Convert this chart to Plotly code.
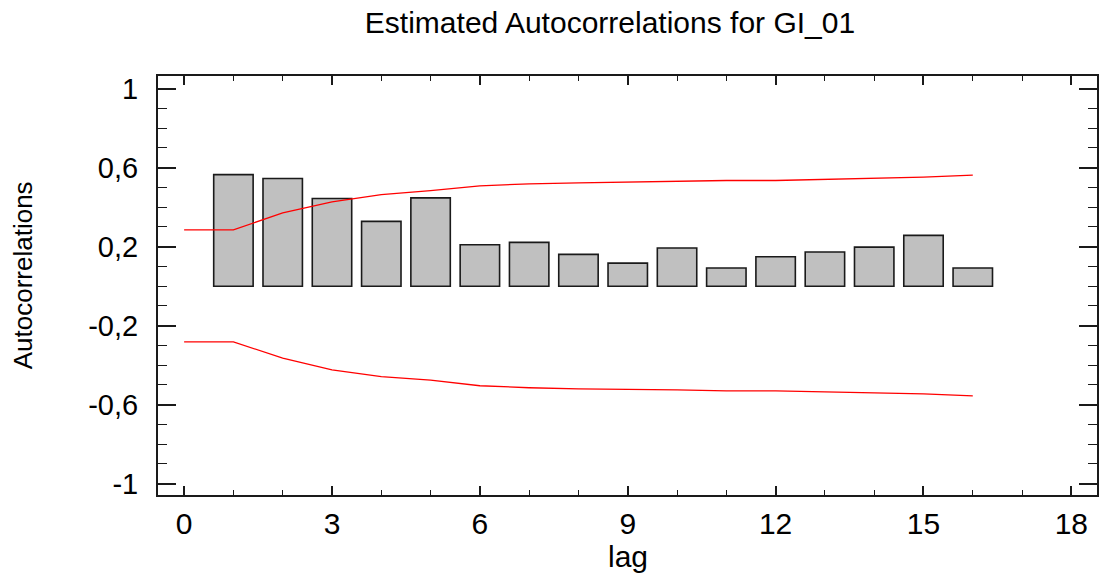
import plotly.graph_objects as go

lags = list(range(1, 17))
acf = [0.565, 0.545, 0.444, 0.328, 0.447, 0.210, 0.222, 0.161,
       0.117, 0.193, 0.092, 0.149, 0.173, 0.198, 0.257, 0.092]

limit_lags = list(range(0, 17))
upper = [0.285, 0.285, 0.371, 0.427, 0.464, 0.484, 0.508, 0.518, 0.523,
         0.528, 0.532, 0.535, 0.535, 0.540, 0.545, 0.552, 0.562]
lower = [-0.282, -0.282, -0.364, -0.424, -0.458, -0.475, -0.504, -0.514, -0.520,
         -0.522, -0.525, -0.530, -0.530, -0.535, -0.540, -0.545, -0.555]

x_ticks = [0, 3, 6, 9, 12, 15, 18]
x_ticklabels = ["0", "3", "6", "9", "12", "15", "18"]
y_ticks = [1, 0.6, 0.2, -0.2, -0.6, -1]
y_ticklabels = ["1", "0,6", "0,2", "-0,2", "-0,6", "-1"]

title_text = "Estimated Autocorrelations for GI_01"
x_title = "lag"
y_title = "Autocorrelations"

FONT = "Liberation Sans, Arial, sans-serif"

fig = go.Figure()
fig.add_trace(go.Bar(
    x=lags, y=acf, width=0.8,
    marker=dict(color="#C0C0C0", line=dict(color="#1a1a1a", width=1.6)),
    showlegend=False,
))
fig.add_trace(go.Scatter(
    x=limit_lags, y=upper, mode="lines",
    line=dict(color="#ff0000", width=1.3), showlegend=False,
))
fig.add_trace(go.Scatter(
    x=limit_lags, y=lower, mode="lines",
    line=dict(color="#ff0000", width=1.3), showlegend=False,
))

fig.update_layout(
    width=1099, height=576,
    margin=dict(l=158, r=0, t=76, b=81),
    paper_bgcolor="white", plot_bgcolor="white",
    font=dict(family=FONT, color="black"),
    title=dict(text=title_text, font=dict(size=30, family=FONT, color="black"),
               x=610 / 1099, xanchor="center", xref="container",
               y=1 - 22 / 576, yanchor="middle", yref="container"),
    annotations=[
        dict(text=x_title, xref="paper", yref="paper", x=(629 - 158) / 941,
             y=-(556 - 495) / 419, xanchor="center", yanchor="middle",
             showarrow=False, font=dict(size=30, family=FONT, color="black")),
        dict(text=y_title, xref="paper", yref="paper", x=-(158 - 23) / 941,
             y=(495 - 275) / 419, xanchor="center", yanchor="middle", textangle=-90,
             showarrow=False, font=dict(size=26, family=FONT, color="black")),
    ],
)

fig.update_xaxes(
    range=[-0.53, 18.52], showgrid=False, zeroline=False,
    showline=True, linecolor="#1a1a1a", linewidth=2, mirror="ticks",
    ticks="inside", ticklen=9, tickwidth=1.6, tickcolor="#1a1a1a",
    tickvals=x_ticks, ticktext=x_ticklabels,
    tickfont=dict(size=30, family=FONT, color="black"),
    ticklabelstandoff=1,
    minor=dict(dtick=1, tick0=0, ticks="inside", ticklen=5, tickwidth=1.4,
               tickcolor="#1a1a1a", showgrid=False),
)
fig.update_yaxes(
    range=[-1.057, 1.064], showgrid=False, zeroline=False,
    showline=True, linecolor="#1a1a1a", linewidth=2, mirror="ticks",
    ticks="inside", ticklen=18, tickwidth=1.6, tickcolor="#1a1a1a",
    tickvals=y_ticks, ticktext=y_ticklabels,
    tickfont=dict(size=29, family=FONT, color="black"),
    ticklabelstandoff=12,
    minor=dict(dtick=0.1, tick0=0, ticks="inside", ticklen=9, tickwidth=1.4,
               tickcolor="#1a1a1a", showgrid=False),
)

fig.write_html("out.html", config={"displayModeBar": False},
               post_script="document.body.style.margin='0';document.body.style.overflow='hidden';")
